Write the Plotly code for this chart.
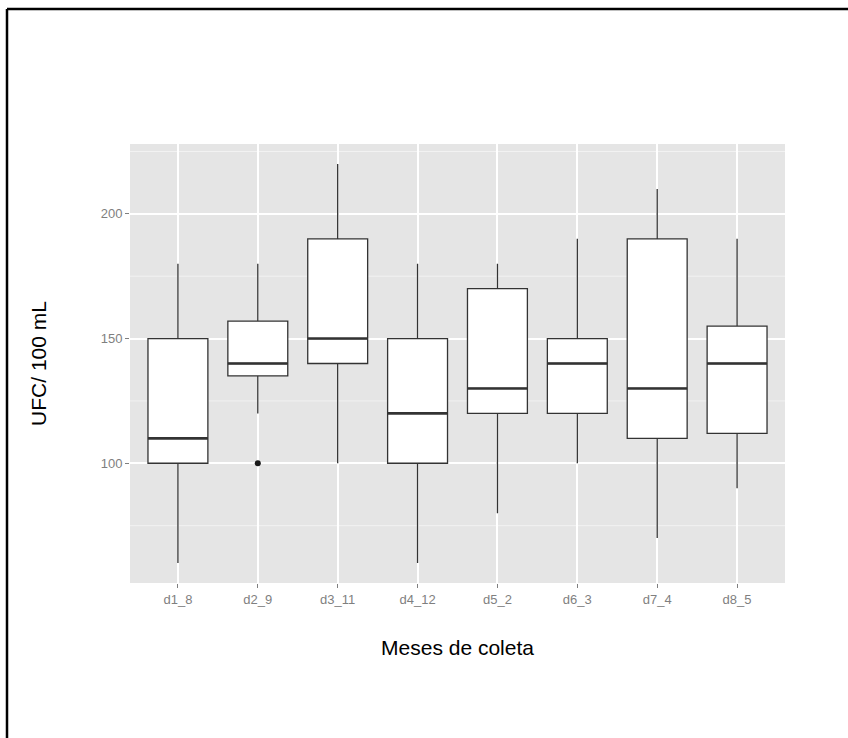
import plotly.graph_objects as go

# Monthly sampling campaigns and their box-plot statistics (UFC / 100 mL)
categories = ["d1_8", "d2_9", "d3_11", "d4_12", "d5_2", "d6_3", "d7_4", "d8_5"]
lower_whisker = [60, 120, 100, 60, 80, 100, 70, 90]
q1 = [100, 135, 140, 100, 120, 120, 110, 112]
median = [110, 140, 150, 120, 130, 140, 130, 140]
q3 = [150, 157, 190, 150, 170, 150, 190, 155]
upper_whisker = [180, 180, 220, 180, 180, 190, 210, 190]

# Outlying observations (category, value)
outlier_cats = ["d2_9"]
outlier_vals = [100]

yticks = [100, 150, 200]
minor_y = [75, 125, 175, 225]

positions = list(range(1, len(categories) + 1))
box_w = 0.75

fig = go.Figure()

fig.add_trace(go.Box(
    x=positions,
    q1=q1, median=median, q3=q3,
    lowerfence=lower_whisker, upperfence=upper_whisker,
    width=box_w,
    whiskerwidth=0,
    fillcolor="white",
    line=dict(color="#333333", width=1.3),
    boxpoints=False,
    showlegend=False,
    hoverinfo="skip",
))

# Thicker median bars, as in the ggplot2 look
for p, m in zip(positions, median):
    fig.add_trace(go.Scatter(
        x=[p - box_w / 2, p + box_w / 2], y=[m, m],
        mode="lines", line=dict(color="#333333", width=2.6),
        showlegend=False, hoverinfo="skip",
    ))

fig.add_trace(go.Scatter(
    x=[positions[categories.index(c)] for c in outlier_cats],
    y=outlier_vals,
    mode="markers",
    marker=dict(color="#1a1a1a", size=6),
    showlegend=False, hoverinfo="skip",
))

# Minor horizontal grid lines
for v in minor_y:
    fig.add_shape(type="line", xref="paper", yref="y", x0=0, x1=1, y0=v, y1=v,
                  line=dict(color="#F2F2F2", width=1), layer="below")

# Outer frame (top and left edges visible)
L, R, T, B = 130, 63, 144, 155
W, H = 848, 738
pw, ph = W - L - R, H - T - B
def px_x(px):
    return (px - L) / pw
def px_y(py):
    return (H - B - py) / ph
fig.add_shape(type="line", xref="paper", yref="paper",
              x0=px_x(7), x1=px_x(W + 5), y0=px_y(9), y1=px_y(9),
              line=dict(color="black", width=2.5))
fig.add_shape(type="line", xref="paper", yref="paper",
              x0=px_x(7), x1=px_x(7), y0=px_y(9), y1=px_y(H + 5),
              line=dict(color="black", width=2.5))

fig.update_layout(
    width=W, height=H,
    margin=dict(l=L, r=R, t=T, b=B),
    paper_bgcolor="white",
    plot_bgcolor="#E5E5E5",
    font=dict(family="Liberation Sans, Arial, sans-serif"),
    xaxis=dict(
        range=[0.4, len(categories) + 0.6],
        tickvals=positions, ticktext=categories,
        showgrid=True, gridcolor="white", gridwidth=1.6,
        zeroline=False,
        ticks="outside", ticklen=4, tickcolor="#7F7F7F", tickwidth=1,
        tickfont=dict(size=13, color="#7F7F7F"),
        title=dict(text="Meses de coleta", font=dict(size=21, color="black"), standoff=34),
        showline=False,
    ),
    yaxis=dict(
        range=[52, 228],
        tickvals=yticks,
        showgrid=True, gridcolor="white", gridwidth=1.6,
        zeroline=False,
        ticks="outside", ticklen=4, tickcolor="#7F7F7F", tickwidth=1,
        tickfont=dict(size=13, color="#7F7F7F"),
        title=dict(text="UFC/ 100 mL", font=dict(size=21, color="black"), standoff=48),
        showline=False,
    ),
)

fig.write_html("out.html")
